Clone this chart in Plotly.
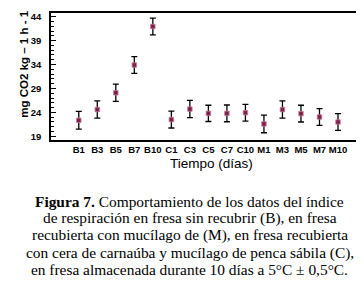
import plotly.graph_objects as go

categories = ["B1", "B3", "B5", "B7", "B10", "C1", "C3", "C5", "C7", "C10",
              "M1", "M3", "M5", "M7", "M10"]
respiration = [22.35, 24.6, 28.1, 33.9, 41.95, 22.5, 24.7, 23.8, 23.8, 23.95,
               21.6, 24.6, 23.75, 23.05, 22.0]
errors = [1.85, 1.8, 1.8, 1.75, 1.75, 1.75, 1.8, 1.7, 1.75, 1.75,
          1.85, 1.8, 1.75, 1.75, 1.75]
y_ticks = [19, 24, 29, 34, 39, 44]
caption_lines = [
    "<b>Figura 7.</b> Comportamiento de los datos del índice",
    "de respiración en fresa sin recubrir (B), en fresa",
    "recubierta con mucílago de (M), en fresa recubierta",
    "con cera de carnaúba y mucílago de penca sábila (C),",
    "en fresa almacenada durante 10 días a 5°C ± 0,5°C.",
]

fig = go.Figure()
fig.add_trace(go.Scatter(
    x=categories, y=respiration, mode="markers",
    marker=dict(symbol="square", size=4.5, color="#7d2348",
                line=dict(color="#c77a9a", width=0.8)),
    error_y=dict(type="data", array=errors, visible=True,
                 color="black", thickness=1.3, width=3),
    showlegend=False,
))

fig.update_layout(
    width=364, height=289,
    margin=dict(l=43, r=9, t=3, b=157),
    paper_bgcolor="white", plot_bgcolor="white",
    font=dict(family="Liberation Sans, Arial", color="black"),
    xaxis=dict(type="category", range=[-1.5, 15.35], showline=True,
               linecolor="black", linewidth=1.5, mirror=True, ticks="",
               tickfont=dict(size=9.5, family="Liberation Sans", weight="bold"),
               showgrid=False, ticklabelstandoff=0),
    yaxis=dict(range=[18.24, 44.76], tickvals=y_ticks, showline=True,
               linecolor="black", linewidth=1.5, mirror="ticks",
               ticks="inside", ticklen=5, tickwidth=1, tickcolor="black",
               minor=dict(dtick=1, ticks="inside", ticklen=3, tickcolor="black"),
               tickfont=dict(size=9.5, family="Liberation Sans", weight="bold"),
               showgrid=False, zeroline=False, ticklabelstandoff=6),
)

fig.add_annotation(text="mg CO2 kg \u2013 1 h - 1", textangle=-90,
                   xref="paper", yref="paper", x=-0.087, y=0.60,
                   xanchor="center", yanchor="middle", showarrow=False,
                   font=dict(size=11.5, family="Liberation Sans", weight="bold"))
fig.add_annotation(text="Tiempo (días)", xref="paper", yref="paper",
                   x=0.515, y=-0.182, xanchor="center", yanchor="middle",
                   showarrow=False,
                   font=dict(size=13.5, family="Liberation Sans"))

line_y = [-0.481, -0.616, -0.751, -0.886, -1.021]
for txt, yy in zip(caption_lines, line_y):
    fig.add_annotation(text=txt, xref="paper", yref="paper",
                       x=0.445, y=yy, xanchor="center", yanchor="middle",
                       showarrow=False, align="center",
                       font=dict(size=15.4, family="Liberation Serif"))

fig.write_html("out.html")
